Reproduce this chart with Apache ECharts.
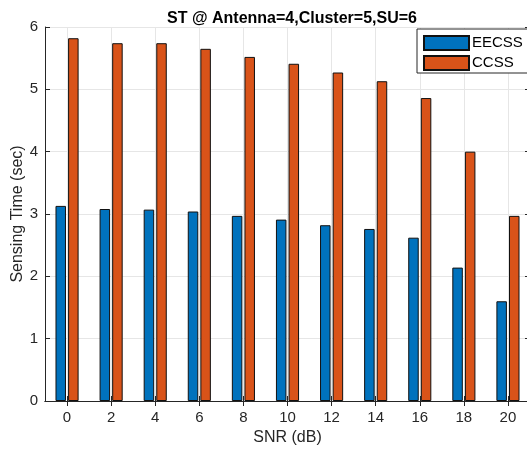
<!DOCTYPE html>
<html><head><meta charset="utf-8">
<script src="https://cdn.jsdelivr.net/npm/echarts@6/dist/echarts.min.js"></script>
<style>html,body{margin:0;padding:0;background:#fff}#c{width:527px;height:450px}</style>
</head><body><div id="c"></div>
<script>
const categories = ['0','2','4','6','8','10','12','14','16','18','20'];
const eecss = [3.13, 3.08, 3.07, 3.04, 2.97, 2.91, 2.82, 2.76, 2.62, 2.14, 1.60];
const ccss  = [5.82, 5.74, 5.74, 5.65, 5.52, 5.41, 5.27, 5.13, 4.86, 4.00, 2.97];
const yTicks = [0,1,2,3,4,5,6];

const font = 'Liberation Sans, Arial, Helvetica, sans-serif';
const chart = echarts.init(document.getElementById('c'));
chart.setOption({
  animation: false,
  title: {text: 'ST @ Antenna=4,Cluster=5,SU=6', left: 287, textAlign: 'center', top: 6,
    textStyle: {fontFamily: font, fontSize: 16, fontWeight: 'bold', color: '#000'}},
  legend: {data: ['EECSS','CCSS'], orient: 'vertical', left: 417, top: 29, icon: 'rect',
    itemWidth: 45, itemHeight: 14, itemGap: 4, padding: [6,12,2,6],
    borderColor: '#262626', borderWidth: 1, backgroundColor: '#fff', borderRadius: 0,
    textStyle: {fontFamily: font, fontSize: 15, color: '#000', padding: [0,0,0,-2]}},
  grid: {left: 45, right: -3, top: 27, bottom: 49, containLabel: false, outerBoundsMode: 'none'},
  xAxis: [{type: 'category', data: categories, boundaryGap: true, name: 'SNR (dB)',
    nameLocation: 'middle', nameGap: 29, nameMoveOverlap: false,
    nameTextStyle: {fontFamily: font, fontSize: 16, color: '#262626'},
    axisLine: {lineStyle: {color: '#262626'}},
    axisTick: {show: true, inside: true, alignWithLabel: true, length: 5, lineStyle: {color: '#262626'}},
    axisLabel: {fontFamily: font, fontSize: 15, color: '#262626', margin: 9},
    splitLine: {show: true, alignWithLabel: true, lineStyle: {color: '#e6e6e6'}}},
   {type: 'category', data: categories, position: 'top', boundaryGap: true,
    axisLine: {lineStyle: {color: '#262626'}},
    axisTick: {show: true, inside: true, alignWithLabel: true, length: 5, lineStyle: {color: '#262626'}},
    axisLabel: {show: false}, splitLine: {show: false}}],
  yAxis: [{type: 'value', min: yTicks[0], max: yTicks[yTicks.length-1], interval: 1,
    name: 'Sensing Time (sec)', nameLocation: 'middle', nameGap: 19, nameMoveOverlap: false,
    nameTextStyle: {fontFamily: font, fontSize: 16, color: '#262626'},
    axisLine: {show: true, lineStyle: {color: '#262626'}},
    axisTick: {show: true, inside: true, length: 5, lineStyle: {color: '#262626'}},
    axisLabel: {fontFamily: font, fontSize: 15, color: '#262626', margin: 7},
    splitLine: {show: true, lineStyle: {color: '#e6e6e6'}}},
   {type: 'value', min: yTicks[0], max: yTicks[yTicks.length-1], interval: 1, position: 'right',
    axisLine: {show: true, lineStyle: {color: '#262626'}},
    axisTick: {show: true, inside: true, length: 5, lineStyle: {color: '#262626'}},
    axisLabel: {show: false}, splitLine: {show: false}}],
  series: [
    {name: 'EECSS', type: 'bar', data: eecss, barWidth: 10.5, barGap: '20%',
     itemStyle: {color: '#0072BD', borderColor: '#111', borderWidth: 1}},
    {name: 'CCSS', type: 'bar', data: ccss, barWidth: 10.5, barGap: '20%',
     itemStyle: {color: '#D95319', borderColor: '#111', borderWidth: 1}}
  ]
});
</script></body></html>
